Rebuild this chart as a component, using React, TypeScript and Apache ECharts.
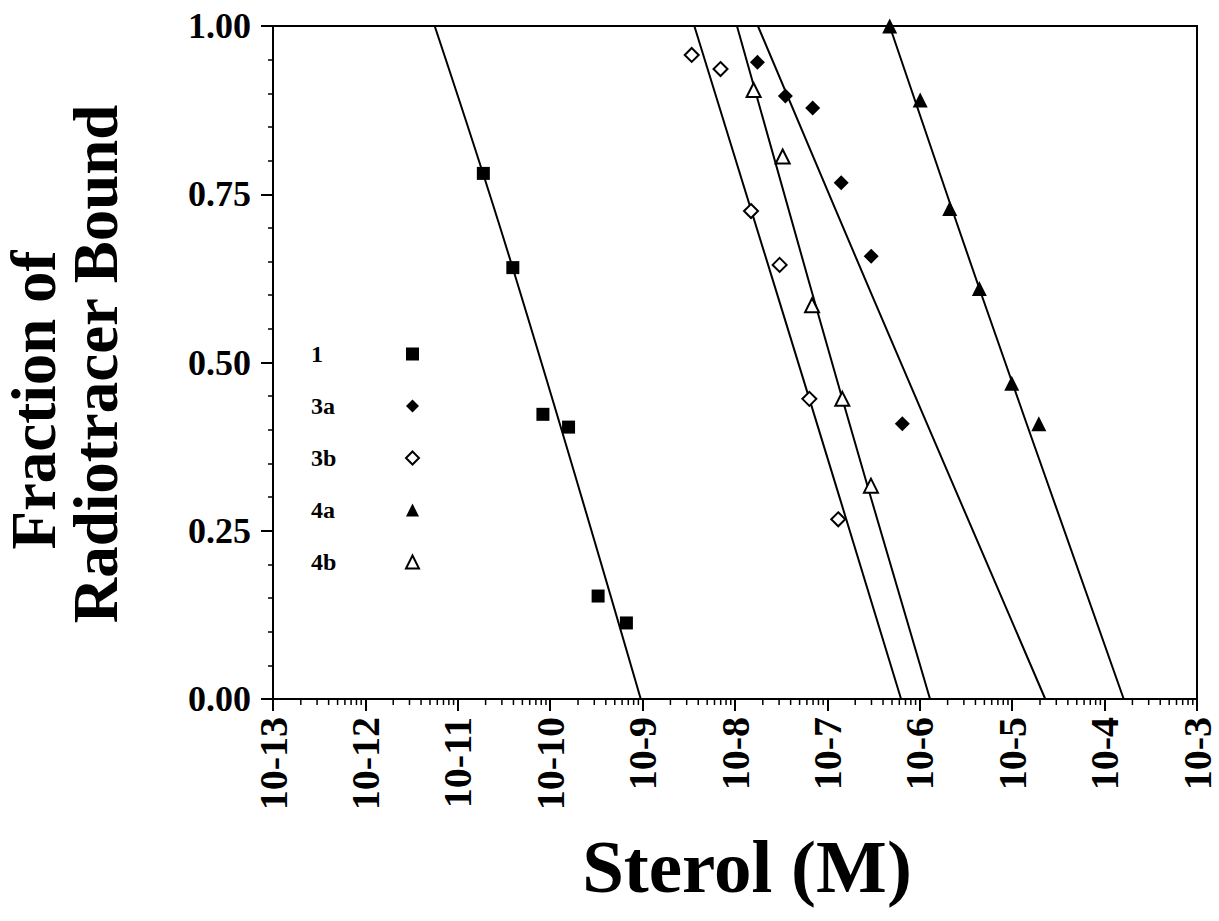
import React, { useEffect, useRef } from "react";
import * as echarts from "echarts";

const FONT = '"Liberation Serif", "Times New Roman", serif';

// Compound 1 (filled squares): sterol concentration (M) and fraction bound
const s1X = [1.89e-11, 3.94e-11, 8.34e-11, 1.58e-10, 3.3e-10, 6.68e-10];
const s1Y = [0.781, 0.641, 0.423, 0.404, 0.153, 0.113];
// Compound 3a (filled diamonds)
const s3aX = [1.75e-8, 3.51e-8, 6.93e-8, 1.41e-7, 2.98e-7, 6.47e-7];
const s3aY = [0.946, 0.896, 0.878, 0.767, 0.658, 0.409];
// Compound 3b (open diamonds)
const s3bX = [3.4e-9, 6.97e-9, 1.49e-8, 3.04e-8, 6.38e-8, 1.31e-7];
const s3bY = [0.957, 0.936, 0.725, 0.645, 0.446, 0.267];
// Compound 4a (filled triangles)
const s4aX = [4.72e-7, 1.01e-6, 2.11e-6, 4.41e-6, 9.89e-6, 1.94e-5];
const s4aY = [1.0, 0.89, 0.729, 0.61, 0.469, 0.409];
// Compound 4b (open triangles)
const s4bX = [1.59e-8, 3.28e-8, 6.82e-8, 1.45e-7, 2.96e-7];
const s4bY = [0.905, 0.806, 0.585, 0.446, 0.317];

// Fitted curves (top, middle, bottom)
const fit1X = [5.62e-12, 3.94e-11, 9.55e-10];
const fit1Y = [1.0, 0.64, 0.0];
const fit3aX = [1.77e-8, 3.19e-7, 2.28e-5];
const fit3aY = [1.0, 0.593, 0.0];
const fit3bX = [3.63e-9, 6.38e-8, 6.27e-7];
const fit3bY = [1.0, 0.446, 0.0];
const fit4aX = [4.72e-7, 4.41e-6, 1.61e-4];
const fit4aY = [1.0, 0.61, 0.0];
const fit4bX = [1.05e-8, 1.45e-7, 1.29e-6];
const fit4bY = [1.0, 0.446, 0.0];

const seriesNames = ["1", "3a", "3b", "4a", "4b"];
const xMin = 1e-13;
const xMax = 1e-3;
const decadeStarts = [-13, -12, -11, -10, -9, -8, -7, -6, -5, -4];
const minorMultipliers = [2, 3, 4, 5, 6, 7, 8, 9];

const zip = (xs: number[], ys: number[]) => xs.map((x, i) => [x, ys[i]]);

export default function App() {
  const ref = useRef<HTMLDivElement>(null);

  useEffect(() => {
    if (!ref.current) return;
    const chart = echarts.init(ref.current, null, { renderer: "svg" });

    const minorTicks: number[][] = [];
    decadeStarts.forEach((d) =>
      minorMultipliers.forEach((k) => minorTicks.push([k * Math.pow(10, d), 0]))
    );

    const scatter = (
      name: string,
      xs: number[],
      ys: number[],
      symbol: string,
      size: number,
      open: boolean
    ) => ({
      name,
      type: "scatter",
      data: zip(xs, ys),
      symbol,
      symbolSize: size,
      itemStyle: open
        ? { color: "#fff", borderColor: "#000", borderWidth: 2, opacity: 1 }
        : { color: "#000", borderColor: "#000", borderWidth: 0, opacity: 1 },
      z: 4,
    });

    const fit = (xs: number[], ys: number[]) => ({
      type: "line",
      data: zip(xs, ys),
      showSymbol: false,
      symbol: "none",
      smooth: 0.4,
      lineStyle: { color: "#000", width: 2 },
      silent: true,
      z: 3,
    });

    chart.setOption({
      animation: false,
      backgroundColor: "#fff",
      grid: {
        left: 273,
        right: 22,
        top: 26,
        bottom: 222,
        show: true,
        borderColor: "#000",
        borderWidth: 2,
        backgroundColor: "transparent",
      },
      xAxis: {
        type: "log",
        logBase: 10,
        min: xMin,
        max: xMax,
        interval: 1,
        splitNumber: 10,
        axisLine: { lineStyle: { color: "#000", width: 2 } },
        axisTick: { length: 12, lineStyle: { color: "#000", width: 2 } },
        splitLine: { show: false },
        axisLabel: {
          rotate: 90,
          margin: 18,
          color: "#000",
          fontFamily: FONT,
          fontWeight: "bold",
          fontSize: 40,
          formatter: (v: number) => "10-" + Math.round(-Math.log10(v)),
        },
      },
      yAxis: {
        type: "value",
        min: 0,
        max: 1,
        interval: 0.25,
        axisLine: { show: true, lineStyle: { color: "#000", width: 2 } },
        axisTick: { show: true, length: 12, lineStyle: { color: "#000", width: 2 } },
        minorTick: { show: true, splitNumber: 5, length: 5, lineStyle: { color: "#000", width: 1.5 } },
        splitLine: { show: false },
        axisLabel: {
          margin: 22,
          color: "#000",
          fontFamily: FONT,
          fontWeight: "bold",
          fontSize: 36,
          formatter: (v: number) => v.toFixed(2),
        },
      },
      legend: {
        data: seriesNames,
        orient: "vertical",
        left: 306,
        top: 337,
        align: "right",
        itemGap: 28,
        itemWidth: 13,
        itemHeight: 13,
        selectedMode: false,
        formatter: (name: string) => "{n|" + name + "}",
        textStyle: {
          fontFamily: FONT,
          fontWeight: "bold",
          fontSize: 24,
          color: "#000",
          rich: {
            n: {
              width: 90,
              align: "left",
              fontFamily: FONT,
              fontWeight: "bold",
              fontSize: 24,
              lineHeight: 22,
              color: "#000",
            },
          },
        },
      },
      graphic: [
        {
          type: "text",
          x: 34,
          y: 400,
          rotation: Math.PI / 2,
          style: {
            text: "Fraction of",
            font: 'bold 63px "Liberation Serif"',
            fill: "#000",
            align: "center",
            verticalAlign: "middle",
          },
        },
        {
          type: "text",
          x: 96,
          y: 364,
          rotation: Math.PI / 2,
          style: {
            text: "Radiotracer Bound",
            font: 'bold 63px "Liberation Serif"',
            fill: "#000",
            align: "center",
            verticalAlign: "middle",
          },
        },
        {
          type: "text",
          x: 747,
          y: 866,
          style: {
            text: "Sterol (M)",
            font: 'bold 75px "Liberation Serif"',
            fill: "#000",
            align: "center",
            verticalAlign: "middle",
          },
        },
      ],
      series: [
        fit(fit1X, fit1Y),
        fit(fit3aX, fit3aY),
        fit(fit3bX, fit3bY),
        fit(fit4aX, fit4aY),
        fit(fit4bX, fit4bY),
        scatter("1", s1X, s1Y, "rect", 13, false),
        scatter("3a", s3aX, s3aY, "diamond", 15, false),
        scatter("3b", s3bX, s3bY, "diamond", 14, true),
        scatter("4a", s4aX, s4aY, "triangle", 15, false),
        scatter("4b", s4bX, s4bY, "triangle", 14, true),
        {
          type: "custom",
          silent: true,
          clip: false,
          data: minorTicks,
          renderItem: (_params: any, api: any) => {
            const p = api.coord([api.value(0), api.value(1)]);
            return {
              type: "line",
              shape: { x1: p[0], y1: p[1], x2: p[0], y2: p[1] + 6 },
              style: { stroke: "#000", lineWidth: 1.5 },
            };
          },
          z: 5,
        },
      ],
    });

    return () => chart.dispose();
  }, []);

  return (
    <div
      ref={ref}
      style={{ position: "absolute", left: 0, top: 0, width: 1219, height: 921 }}
    />
  );
}
